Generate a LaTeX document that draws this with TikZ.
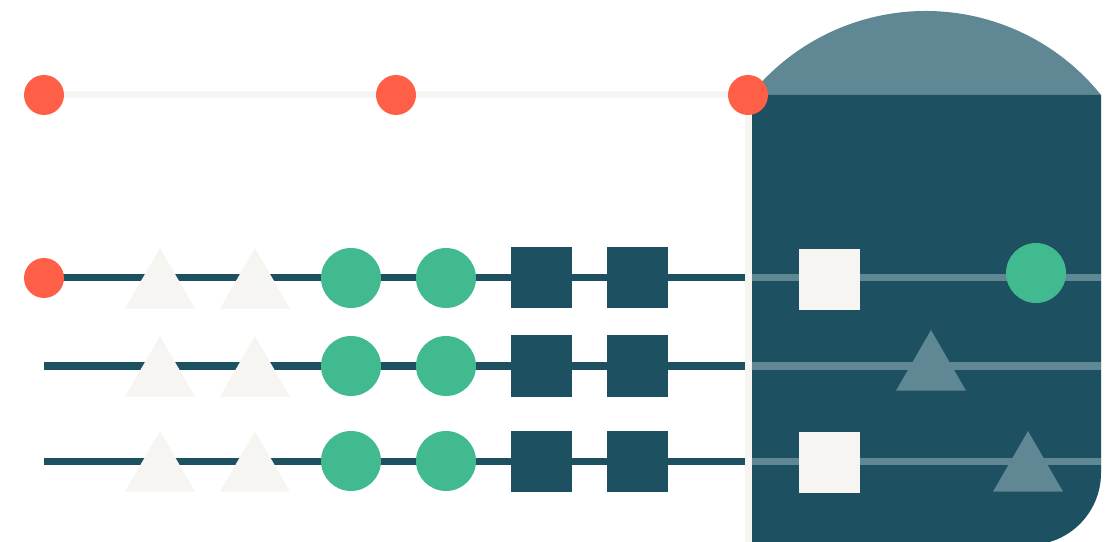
\documentclass[tikz,border=0pt]{standalone}
\usetikzlibrary{shapes.geometric}
\definecolor{deepteal}{HTML}{1D5061}
\definecolor{slate}{HTML}{5F8794}
\definecolor{coral}{HTML}{FF5F46}
\definecolor{mint}{HTML}{42BA8F}
\definecolor{paper}{HTML}{F6F5F1}
\begin{document}
\begin{tikzpicture}[x=1pt,y=1pt,
  tri/.style={regular polygon, regular polygon sides=3, minimum size=80.8pt,
    inner sep=0pt, outer sep=0pt, anchor=north},
  disc/.style={circle, minimum size=60pt, inner sep=0pt, fill=mint},
  box/.style={rectangle, minimum size=61pt, inner sep=0pt},
  stop/.style={circle, minimum size=40pt, inner sep=0pt, fill=coral},
  track/.style={line width=7pt}]
  \useasboundingbox (0,0) rectangle (1118,541);
  % dome on the block
  \fill[slate] (1101,446) arc[start angle=38.8, end angle=141.2, radius=225];
  % block with round lower corner
  \fill[deepteal] (752,446) -- (1101,446) -- (1101,68)
    arc[start angle=0, end angle=-90, radius=72] -- (752,-4) -- cycle;
  % top track, bent down the side of the block
  \coordinate (bend) at (748.5,446);
  \coordinate (foot) at (748.5,-5);
  \draw[track, paper] (44,446) -- (bend) -- (foot);
  % rows
  \foreach \y [count=\r] in {263,175,80} {
    \coordinate (a\r) at (44,\y);
    \coordinate (b\r) at (745,\y);
    \coordinate (c\r) at (752,\y);
    \coordinate (d\r) at (1101,\y);
    \draw[track, deepteal] (a\r) -- (b\r);
    \draw[track, slate] (c\r) -- (d\r);
    \node[tri, fill=paper] (u\r) at (160,\y+30) {};
    \node[tri, fill=paper] (v\r) at (255,\y+30) {};
    \node[disc] (p\r) at (351,\y) {};
    \node[disc] (q\r) at (446,\y) {};
    \node[box, fill=deepteal] (m\r) at (541.5,\y) {};
    \node[box, fill=deepteal] (n\r) at (637.5,\y) {};
  }
  % inside the block
  \node[box, fill=paper] (w1) at (829.5,261.5) {};
  \node[disc] (g1) at (1036,268) {};
  \node[tri, fill=slate] (k2) at (931,211) {};
  \node[box, fill=paper] (w3) at (829.5,78.5) {};
  \node[tri, fill=slate] (k3) at (1028,110) {};
  % red stops
  \foreach \x [count=\i] in {44,396,748}
    \node[stop] (s\i) at (\x,446) {};
  \node[stop] (s0) at (a1) {};
\end{tikzpicture}
\end{document}
